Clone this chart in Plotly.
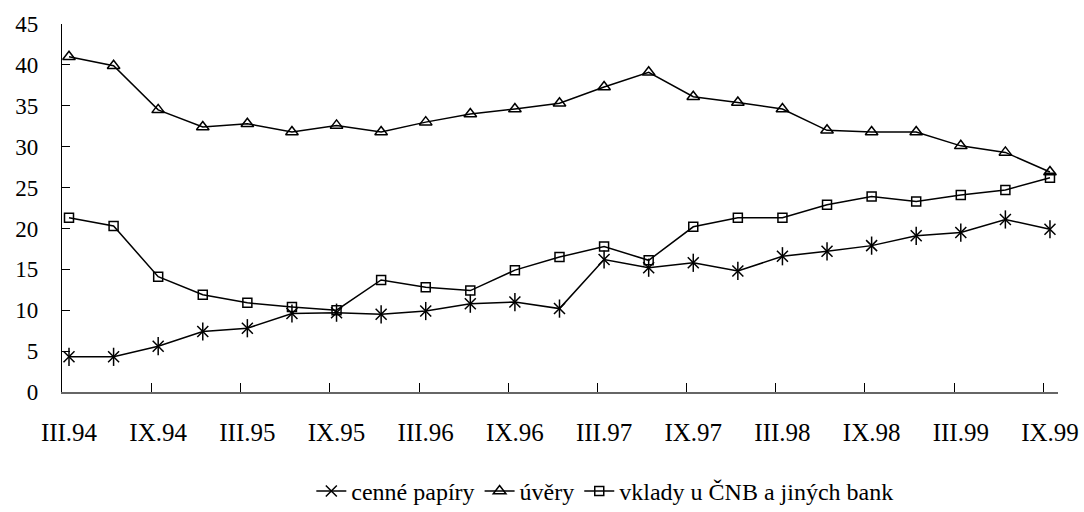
import plotly.graph_objects as go

# Quarterly periods III.94 ... IX.99 (23 quarters)
quarters = ["III.94", "VI.94", "IX.94", "XII.94",
            "III.95", "VI.95", "IX.95", "XII.95",
            "III.96", "VI.96", "IX.96", "XII.96",
            "III.97", "VI.97", "IX.97", "XII.97",
            "III.98", "VI.98", "IX.98", "XII.98",
            "III.99", "VI.99", "IX.99"]

cenne_papiry = [4.3, 4.3, 5.6, 7.4, 7.8, 9.6, 9.7, 9.5,
                9.9, 10.8, 11.0, 10.2, 16.2, 15.2, 15.8, 14.8,
                16.6, 17.2, 17.9, 19.1, 19.5, 21.1, 19.9]

uvery = [41.0, 39.9, 34.5, 32.4, 32.8, 31.8, 32.6, 31.8,
         33.0, 34.0, 34.6, 35.3, 37.3, 39.1, 36.1, 35.4,
         34.6, 32.0, 31.8, 31.8, 30.1, 29.3, 26.9]

vklady = [21.3, 20.3, 14.1, 11.9, 10.9, 10.4, 10.0, 13.7,
          12.8, 12.4, 14.9, 16.5, 17.8, 16.1, 20.2, 21.3,
          21.3, 22.9, 23.9, 23.3, 24.1, 24.7, 26.2]

y_ticks = [0, 5, 10, 15, 20, 25, 30, 35, 40, 45]

x = list(range(len(quarters)))
label_idx = x[::2]
label_text = [quarters[i] for i in label_idx]
# tick marks sit slightly left of each labelled quarter
tick_shift = 0.15
tick_pos = [i - tick_shift for i in label_idx]
x_range = [-0.157, 22.18]

FONT = "Liberation Serif, Times New Roman, serif"
line_style = dict(color="black", width=1.5)

fig = go.Figure()

fig.add_trace(go.Scatter(
    x=x, y=cenne_papiry, mode="lines+markers", name="cenné papíry",
    line=line_style,
    marker=dict(symbol="x-thin-open", size=11, color="black",
                line=dict(color="black", width=1.5)),
))
fig.add_trace(go.Scatter(
    x=x, y=cenne_papiry, mode="markers", showlegend=False, hoverinfo="skip",
    marker=dict(symbol="line-ns-open", size=13, color="black",
                line=dict(color="black", width=1.5)),
))
fig.add_trace(go.Scatter(
    x=x, y=uvery, mode="lines+markers", name="úvěry",
    line=line_style,
    marker=dict(symbol="triangle-up-open", size=11, color="black",
                line=dict(color="black", width=1.5)),
))
fig.add_trace(go.Scatter(
    x=x, y=vklady, mode="lines+markers", name="vklady u ČNB a jiných bank",
    line=line_style,
    marker=dict(symbol="square-open", size=9, color="black",
                line=dict(color="black", width=1.5)),
))

# invisible trace to carry the tick-mark axis
fig.add_trace(go.Scatter(x=x_range, y=[0, 0], xaxis="x2", mode="lines",
                         line=dict(width=0), showlegend=False, hoverinfo="skip"))

fig.update_layout(
    width=1084, height=512,
    margin=dict(l=62, r=26, t=24, b=120, autoexpand=False),
    paper_bgcolor="white", plot_bgcolor="white",
    font=dict(family=FONT, size=24, color="black"),
    showlegend=True,
    legend=dict(orientation="h", x=0.545, xanchor="center", y=-0.27, yanchor="middle",
                font=dict(family=FONT, size=24, color="black"),
                itemwidth=30, tracegroupgap=0),
    xaxis=dict(range=x_range, tickmode="array", tickvals=label_idx, ticktext=label_text,
               ticks="", showgrid=False, zeroline=False, showline=True,
               linecolor="#666", linewidth=1.5, automargin=False,
               tickfont=dict(family=FONT, size=25), ticklabelstandoff=17),
    xaxis2=dict(range=x_range, overlaying="x", anchor="y", side="bottom",
                tickmode="array", tickvals=tick_pos, ticks="inside", ticklen=9,
                tickwidth=1.3, tickcolor="black", showticklabels=False,
                showgrid=False, zeroline=False, showline=False, automargin=False),
    yaxis=dict(range=[0, 45], tickmode="array", tickvals=y_ticks,
               ticks="inside", ticklen=8, tickwidth=1.3, tickcolor="black",
               showgrid=False, zeroline=False, showline=True,
               linecolor="black", linewidth=1.3, automargin=False,
               tickfont=dict(family=FONT, size=23), ticklabelstandoff=18),
)

fig.write_html("out.html")
